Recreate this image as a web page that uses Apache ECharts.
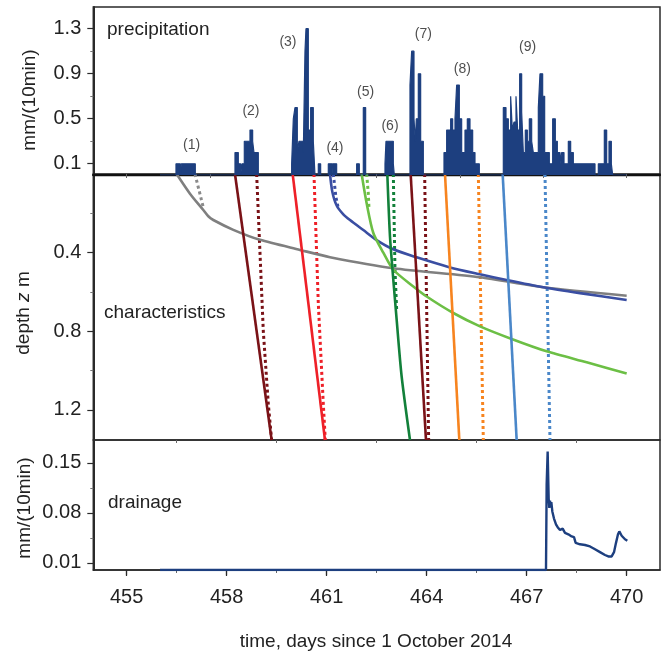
<!DOCTYPE html>
<html>
<head>
<meta charset="utf-8">
<script src="https://cdn.jsdelivr.net/npm/echarts/dist/echarts.min.js"></script>
<style>
html,body{margin:0;padding:0;background:#fff;}
#chart{width:661px;height:654px;}
</style>
</head>
<body>
<div id="chart"></div>
<script>
// ---------- tick values ----------
const xTickLabels = [455, 458, 461, 464, 467, 470];
const xMinorTicks = [456.5, 459.5, 462.5, 465.5, 468.5];
const charTopTicks = [455, 457.5, 460, 462.5, 465, 467.5, 470];
const precipTickLabels = [0.1, 0.5, 0.9, 1.3];
const precipMinorTicks = [0.3, 0.7, 1.1];
const depthTickLabels = [0.4, 0.8, 1.2];
const depthMinorTicks = [0.2, 0.6, 1.0];
const drainTickLabels = [0.01, 0.08, 0.15];
const drainMinorTicks = [0.045, 0.115];

// ---------- precipitation (10-min steps; value holds until next day value) ----------
const precipDays = [
  456.0, 456.48, 456.61, 456.64, 457.06,
  458.25, 458.35, 458.42, 458.46, 458.53, 458.7, 458.78, 458.82, 458.95,
  459.95, 460.0, 460.05, 460.12, 460.17, 460.3, 460.35, 460.38, 460.45, 460.52, 460.6, 460.65, 460.75, 460.82,
  461.05, 461.16, 461.18, 461.3,
  461.9, 461.98, 462.1, 462.17,
  462.75, 462.78, 463.0, 463.03,
  463.5, 463.55, 463.62, 463.66, 463.69, 463.75, 463.82, 463.9,
  464.52, 464.6, 464.72, 464.78, 464.85, 464.9, 464.98, 465.05, 465.15, 465.22, 465.3, 465.38, 465.45, 465.58,
  466.3, 466.38, 466.45, 466.52, 466.57, 466.62, 466.68, 466.73, 466.79, 466.85, 466.9, 466.96, 467.02, 467.08,
  467.15, 467.2, 467.35, 467.4, 467.48, 467.54, 467.68, 467.78, 467.86, 467.92, 468.0, 468.05, 468.12, 468.25,
  468.32, 468.4, 469.05, 469.15, 469.33, 469.4, 469.47, 469.54, 469.58, 470.0
];
const precipValues = [
  0, 0.1, 0, 0.1, 0,
  0.2, 0.1, 0, 0.1, 0.3, 0.4, 0.3, 0.2, 0,
  0.1, 0.5, 0.6, 0.2, 0.3, 0.2, 1.1, 1.3, 0.4, 0.6, 0.3, 0, 0.1, 0,
  0.1, 0, 0.1, 0,
  0.1, 0, 0.6, 0,
  0.1, 0.3, 0.1, 0,
  0.8, 1.1, 0.5, 0.3, 0.5, 0.9, 0.3, 0,
  0.2, 0.4, 0.5, 0.4, 0.5, 0.8, 0.5, 0.2, 0.4, 0.5, 0.4, 0.2, 0.1, 0,
  0.6, 0.5, 0.4, 0.7, 0.4, 0.47, 0.7, 0.4, 0.9, 0.56, 0.2, 0.4, 0.3, 0.5,
  0.3, 0.2, 0.6, 0.9, 0.7, 0.2, 0.1, 0.5, 0.3, 0.2, 0.1, 0.2, 0.1, 0.3,
  0.2, 0.1, 0, 0.1, 0.4, 0.1, 0.3, 0.1, 0, 0
];

// ---------- event labels ----------
const eventLabels = ['(1)', '(2)', '(3)', '(4)', '(5)', '(6)', '(7)', '(8)', '(9)'];
const eventLabelDays = [456.95, 458.73, 459.84, 461.25, 462.17, 462.9, 463.9, 465.07, 467.03];
const eventLabelValues = [0.267, 0.571, 1.185, 0.24, 0.74, 0.438, 1.253, 0.942, 1.132];

// ---------- characteristics: [day, depth m] ----------
const grayCurve = [[456.5,0],[456.9,0.1],[457.3,0.183],[457.45,0.215],[457.6,0.234],[458.2,0.284],[459.0,0.335],[460.2,0.386],[461.1,0.423],[463.0,0.479],[465.6,0.525],[467.5,0.576],[470.0,0.619]];
const grayDotted = [[457.05,0],[457.3,0.17]];
const maroon1Solid = [[458.25,0],[459.35,1.353]];
const maroon1Dotted = [[458.9,0],[459.0,0.4],[459.1,0.8],[459.25,1.17],[459.35,1.353]];
const redSolid = [[459.98,0],[460.95,1.353]];
const redDotted = [[460.62,0],[460.75,0.66],[460.9,1.17],[460.96,1.353]];
const blueCurve = [[461.1,0],[461.17,0.09],[461.3,0.16],[461.5,0.205],[461.7,0.234],[462.1,0.285],[462.5,0.336],[463.0,0.383],[463.7,0.424],[464.7,0.475],[465.6,0.51],[466.4,0.539],[467.5,0.576],[468.6,0.606],[470.0,0.641]];
const blueDotted = [[461.2,0],[461.28,0.12],[461.35,0.174]];
const lightGreenCurve = [[462.05,0],[462.2,0.149],[462.4,0.3],[462.7,0.4],[463.0,0.487],[463.6,0.572],[464.0,0.623],[464.8,0.707],[465.6,0.775],[466.55,0.839],[467.6,0.902],[468.8,0.958],[470.0,1.015]];
const lightGreenDotted = [[462.2,0],[462.25,0.1],[462.27,0.175]];
const darkGreenSolid = [[462.82,0],[462.9,0.318],[463.0,0.538],[463.1,0.741],[463.25,1.03],[463.5,1.353]];
const darkGreenDotted = [[463.0,0],[463.05,0.487],[463.1,0.69]];
const maroon2Solid = [[463.52,0],[463.98,1.353]];
const maroon2Dotted = [[463.94,0],[464.06,1.353]];
const orangeSolid = [[464.55,0],[464.98,1.353]];
const orangeDotted = [[465.55,0],[465.7,1.353]];
const lightBlueSolid = [[466.28,0],[466.7,1.353]];
const lightBlueDotted = [[467.55,0],[467.7,1.353]];

// ---------- drainage ----------
const drainDays = [456.0, 467.58, 467.6, 467.63, 467.66, 467.68, 467.7, 467.72, 467.74, 467.77, 467.82, 467.88, 467.93, 468.0, 468.08, 468.15, 468.25, 468.35, 468.42, 468.47, 468.6, 468.75, 468.9, 469.05, 469.2, 469.35, 469.45, 469.55, 469.62, 469.68, 469.74, 469.78, 469.85, 469.95, 470.02];
const drainValues = [0, 0, 0.12, 0.166, 0.1, 0.087, 0.097, 0.088, 0.095, 0.082, 0.072, 0.064, 0.06, 0.056, 0.058, 0.052, 0.05, 0.047, 0.046, 0.038, 0.036, 0.035, 0.033, 0.029, 0.025, 0.021, 0.019, 0.019, 0.025, 0.038, 0.05, 0.054, 0.048, 0.043, 0.041];

// ---------- build ----------
const FONT = 'Liberation Sans, Arial, sans-serif';
const TXT = '#222';
const AX = '#2a2a2a';
const PREC = '#1d3f7f';
const XMIN = 454, XMAX = 471;

const G = [
  {left: 93.3, right: 1, top: 7, height: 168},
  {left: 93.3, right: 1, top: 174, height: 266},
  {left: 93.3, right: 1, top: 440, height: 130}
];
const grids = [
  Object.assign({show: true, borderColor: AX, borderWidth: 1.5, backgroundColor: 'transparent'}, G[0]),
  Object.assign({show: true, borderColor: AX, borderWidth: 1.5, backgroundColor: 'transparent'}, G[1]),
  Object.assign({show: true, borderColor: AX, borderWidth: 1.5, backgroundColor: 'transparent'}, G[2]),
  Object.assign({show: false}, G[0]),
  Object.assign({show: false}, G[1]),
  Object.assign({show: false}, G[2])
];

function xAx(grid, pos, opts) {
  return Object.assign({
    type: 'value', gridIndex: grid, position: pos, min: XMIN, max: XMAX,
    splitLine: {show: false},
    axisLine: {show: false},
    axisTick: {show: false},
    axisLabel: {show: false}
  }, opts);
}
function yAx(grid, min, max, opts) {
  return Object.assign({
    type: 'value', gridIndex: grid, position: 'left', min: min, max: max,
    splitLine: {show: false},
    axisLine: {show: false},
    axisTick: {show: false},
    axisLabel: {show: false}
  }, opts);
}
const tickLbl = {show: true, fontSize: 20, color: TXT, fontFamily: FONT};

const PMAX = 1.493, DMAX = 1.353, RMAX = 0.182;

const xAxes = [
  xAx(0, 'bottom', {axisLine: {show: true, onZero: false, lineStyle: {color: '#111', width: 2.4}}}),
  xAx(1, 'top', {axisTick: {show: true, inside: true, length: 4, customValues: charTopTicks, lineStyle: {color: '#666', width: 1}}}),
  xAx(2, 'bottom', {
    axisLine: {show: true, onZero: false, lineStyle: {color: AX, width: 1.5}},
    axisTick: {show: true, length: 6, customValues: xTickLabels, lineStyle: {color: AX, width: 1.2}},
    axisLabel: Object.assign({margin: 17, customValues: xTickLabels}, tickLbl)
  }),
  xAx(2, 'top', {axisTick: {show: true, inside: true, length: 5, customValues: xTickLabels, lineStyle: {color: AX, width: 1.2}}}),
  xAx(3, 'bottom', {}),
  xAx(4, 'bottom', {}),
  xAx(5, 'bottom', {axisTick: {show: true, length: 3, customValues: xMinorTicks, lineStyle: {color: '#666', width: 1}}}),
  xAx(5, 'top', {axisTick: {show: true, inside: true, length: 3, customValues: xMinorTicks, lineStyle: {color: '#666', width: 1}}})
];
const yAxes = [
  yAx(0, 0, PMAX, {
    axisLine: {show: true, onZero: false, lineStyle: {color: AX, width: 2}},
    axisTick: {show: true, length: 6, customValues: precipTickLabels, lineStyle: {color: AX, width: 1.2}},
    axisLabel: Object.assign({margin: 12, customValues: precipTickLabels}, tickLbl)
  }),
  yAx(1, 0, DMAX, {
    inverse: true,
    axisLine: {show: true, onZero: false, lineStyle: {color: AX, width: 2}},
    axisTick: {show: true, length: 6, customValues: depthTickLabels, lineStyle: {color: AX, width: 1.2}},
    axisLabel: Object.assign({margin: 12, customValues: depthTickLabels}, tickLbl)
  }),
  yAx(2, 0, RMAX, {
    axisLine: {show: true, onZero: false, lineStyle: {color: AX, width: 2}},
    axisTick: {show: true, length: 6, customValues: drainTickLabels, lineStyle: {color: AX, width: 1.2}},
    axisLabel: Object.assign({margin: 12, customValues: drainTickLabels}, tickLbl)
  }),
  yAx(3, 0, PMAX, {axisTick: {show: true, length: 3, customValues: precipMinorTicks, lineStyle: {color: '#777', width: 1}}}),
  yAx(4, 0, DMAX, {inverse: true, axisTick: {show: true, length: 3, customValues: depthMinorTicks, lineStyle: {color: '#777', width: 1}}}),
  yAx(5, 0, RMAX, {axisTick: {show: true, length: 3, customValues: drainMinorTicks, lineStyle: {color: '#777', width: 1}}})
];

function charLine(data, color, dotted) {
  return {
    type: 'line', xAxisIndex: 1, yAxisIndex: 1, data: data,
    symbol: 'none', smooth: dotted ? false : 0.25, silent: true, animation: false,
    lineStyle: {color: color, width: dotted ? 3 : 2.6, type: dotted ? [3, 3] : 'solid', cap: 'butt'},
    z: dotted ? 3 : 4
  };
}

const series = [
  {
    type: 'line', xAxisIndex: 0, yAxisIndex: 0, step: 'end', symbol: 'none', animation: false,
    data: precipDays.map((d, i) => [d, precipValues[i]]),
    lineStyle: {color: PREC, width: 1.2},
    areaStyle: {color: PREC, opacity: 1},
    z: 5
  },
  {
    type: 'scatter', xAxisIndex: 0, yAxisIndex: 0, symbolSize: 0, animation: false, silent: true,
    data: eventLabelDays.map((d, i) => ({value: [d, eventLabelValues[i]], name: eventLabels[i]})),
    label: {show: true, position: 'inside', formatter: p => p.name, fontSize: 14, color: TXT, fontFamily: FONT}
  },
  charLine(grayDotted, '#8a8a8a', true),
  charLine(grayCurve, '#7f7f7f', false),
  charLine(maroon1Dotted, '#7a1217', true),
  charLine(maroon1Solid, '#7a1217', false),
  charLine(redDotted, '#ee2028', true),
  charLine(redSolid, '#ee2028', false),
  charLine(blueDotted, '#3a4ea2', true),
  charLine(blueCurve, '#3a4ea2', false),
  charLine(lightGreenDotted, '#6cbf45', true),
  charLine(lightGreenCurve, '#6cbf45', false),
  charLine(darkGreenDotted, '#12803a', true),
  charLine(darkGreenSolid, '#12803a', false),
  charLine(maroon2Dotted, '#7a1217', true),
  charLine(maroon2Solid, '#7a1217', false),
  charLine(orangeDotted, '#f7841f', true),
  charLine(orangeSolid, '#f7841f', false),
  charLine(lightBlueDotted, '#4a87c9', true),
  charLine(lightBlueSolid, '#4a87c9', false),
  {
    type: 'line', xAxisIndex: 2, yAxisIndex: 2, symbol: 'none', animation: false,
    data: drainDays.map((d, i) => [d, drainValues[i]]),
    lineStyle: {color: PREC, width: 2.4},
    z: 5
  }
];

const txt = (t, x, y, extra) => Object.assign({
  type: 'text', x: x, y: y, silent: true, z: 100,
  style: Object.assign({text: t, font: '19px ' + FONT, fill: TXT, align: 'left', verticalAlign: 'middle'}, extra || {})
});

const graphics = [
  txt('precipitation', 107, 30),
  txt('characteristics', 104, 313),
  txt('drainage', 108, 503),
  {type: 'text', x: 30, y: 100, rotation: Math.PI / 2, silent: true,
   style: {text: 'mm/(10min)', font: '19px ' + FONT, fill: TXT, align: 'center', verticalAlign: 'middle'}},
  {type: 'text', x: 24, y: 313, rotation: Math.PI / 2, silent: true,
   style: {text: '{a|depth }{b|z}{a| m}', fill: TXT, align: 'center', verticalAlign: 'middle',
     rich: {a: {fontSize: 19, fontFamily: FONT, fill: TXT}, b: {fontSize: 19, fontFamily: FONT, fontStyle: 'italic', fill: TXT}}}},
  {type: 'text', x: 25, y: 508, rotation: Math.PI / 2, silent: true,
   style: {text: 'mm/(10min)', font: '19px ' + FONT, fill: TXT, align: 'center', verticalAlign: 'middle'}},
  txt('time, days since 1 October 2014', 376, 642, {align: 'center'})
];

const chart = echarts.init(document.getElementById('chart'), null, {renderer: 'canvas'});
chart.setOption({
  animation: false,
  backgroundColor: '#fff',
  textStyle: {fontFamily: FONT},
  grid: grids,
  xAxis: xAxes,
  yAxis: yAxes,
  series: series,
  graphic: graphics
});
</script>
</body>
</html>
